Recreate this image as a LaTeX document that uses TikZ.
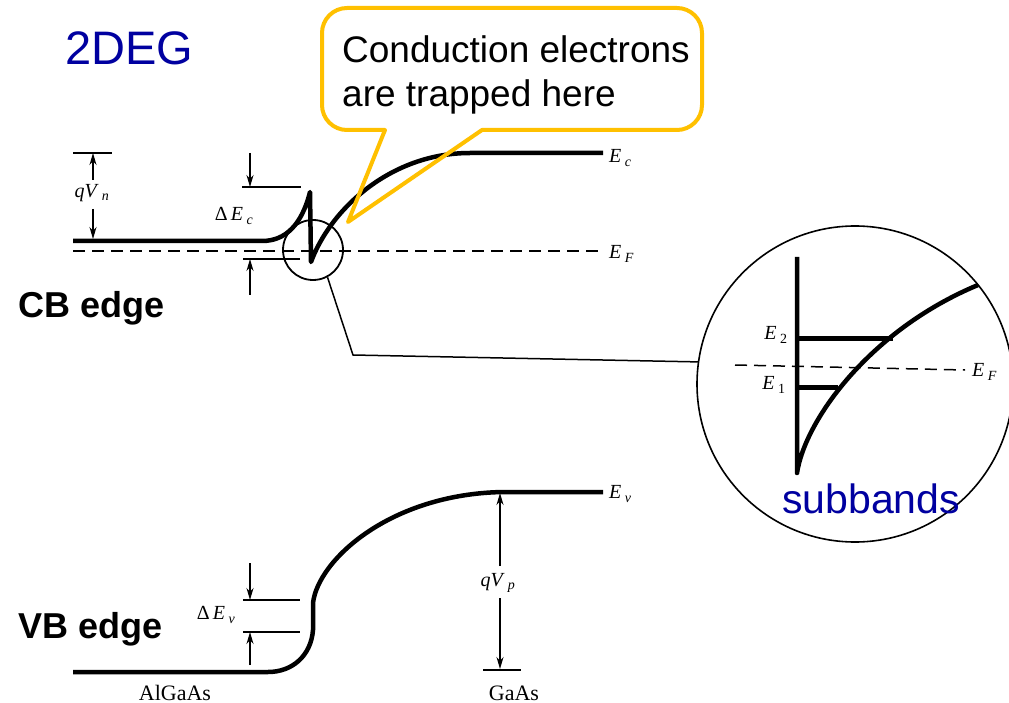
\documentclass[tikz,border=0pt]{standalone}
\usepackage{fontspec}
\setmainfont{Liberation Serif}
\newfontfamily\arialfont{Liberation Sans}
\usetikzlibrary{arrows.meta, positioning}
\definecolor{DegBlue}{RGB}{0,0,160}
\definecolor{CalloutGold}{RGB}{255,192,0}
\newcommand{\bandsym}[2]{\textit{#1}\,\textsubscript{#2}}

\begin{document}
\begin{tikzpicture}[x=1pt, y=-1pt,
    band/.style={line width=4.5pt, line join=round},
    level/.style={line width=5pt},
    guide/.style={line width=1.5pt},
    fermi/.style={line width=1.5pt, dash pattern=on 12pt off 7pt},
    arr/.style={-{Stealth[length=12pt, width=7pt]}, line width=1.5pt},
    sym/.style={font=\fontsize{20}{24}\selectfont, inner sep=0pt},
    mat/.style={font=\fontsize{22}{26}\selectfont, inner sep=0pt},
    blue/.style={font=\arialfont\fontsize{#1}{#1}\selectfont, text=DegBlue, inner sep=0pt, anchor=base west},
    edge/.style={font=\arialfont\bfseries\fontsize{36}{42}\selectfont, inner sep=0pt, anchor=base west},
    callout/.style={draw=CalloutGold, line width=4pt, line join=round}
  ]
\useasboundingbox (0,0) rectangle (1009,703);

% titles
\node[blue=47] (deg) at (65,65) {2DEG};
\node[edge] (cb) at (18,317) {CB edge};
\node[edge] (vb) at (18,638) {VB edge};

% conduction band
\draw[band] (73,241) -- (262,241) .. controls (286,241) and (302,224) .. (310,192)
  -- (311,262) .. controls (330,210) and (390,153) .. (470,153) -- (603,153);
\draw[fermi] (73,251) -- (603,251);
\node[sym, anchor=west] (ec) at (609,158) {\bandsym{E}{\textit{c}}};
\node[sym, anchor=west] (ef) at (609,254) {\bandsym{E}{\textit{F}}};

% qV_n
\draw[guide] (73,153) -- (112,153);
\node[sym] (qvn) at (92,193) {\bandsym{qV}{\textit{n}}};
\coordinate (qvntop) at (93,153);
\coordinate (qvnbot) at (93,239);
\draw[arr] (93,180) -- (qvntop);
\draw[arr] (93,209) -- (qvnbot);

% Delta E_c
\node[sym] (dec) at (234,216) {Δ\,\bandsym{E}{\textit{c}}};
\draw[guide] (242,187) -- (301,187);
\draw[guide] (243,259) -- (300,259);
\draw[arr] (250,153) -- (250,187);
\draw[arr] (250,295) -- (250,259);

% valence band
\draw[band] (73,672) -- (268,672) .. controls (292,672) and (311,656) .. (313,630)
  -- (313,603) .. controls (318,560) and (390,494) .. (503,492) -- (603,492);
\node[sym, anchor=west] (ev) at (609,494) {\bandsym{E}{\textit{v}}};

% Delta E_v
\node[sym] (dev) at (216,615) {Δ\,\bandsym{E}{\textit{v}}};
\draw[guide] (243,600) -- (300,600);
\draw[guide] (243,632) -- (300,632);
\draw[arr] (250,563) -- (250,600);
\draw[arr] (250,665) -- (250,632);

% qV_p
\node[sym] (qvp) at (498,583) {\bandsym{qV}{\textit{p}}};
\draw[guide] (483,670) -- (521,670);
\draw[arr] (500,566) -- (500,493);
\draw[arr] (500,598) -- (500,669);

\node[mat, anchor=base] (algaas) at (175,700) {AlGaAs};
\node[mat, anchor=base] (gaas) at (514,700) {GaAs};

% zoomed well
\node[circle, draw, line width=1.8pt, minimum size=60pt, inner sep=0pt] (spot) at (313,250) {};
\node[circle, draw, line width=1.6pt, minimum size=316pt, inner sep=0pt] (lens) at (855,384) {};
\coordinate (bend) at (353,355);
\draw[guide] (spot.-62) -- (bend) -- (lens.172);

\draw[band] (797,257) -- (797,473) .. controls (805,420) and (870,330) .. (978,285);
\draw[level] (797,338) -- (893,338);
\draw[level] (797,387) -- (838,387);
\draw[fermi] (735,365) -- (965,370);
\node[sym] (e2) at (776,335) {\bandsym{E}{2}};
\node[sym] (e1) at (774,385) {\bandsym{E}{1}};
\node[sym, anchor=west] (efin) at (972,372) {\bandsym{E}{\textit{F}}};
\node[blue=41] (sub) at (782,513) {subbands};

% callout
\draw[callout] (385,130) -- (347,130) arc[start angle=90, end angle=180, radius=25]
  -- (322,33) arc[start angle=180, end angle=270, radius=25]
  -- (677,8) arc[start angle=270, end angle=360, radius=25]
  -- (702,105) arc[start angle=0, end angle=90, radius=25]
  -- (482,130) -- (348,222) -- cycle;
\node[font=\arialfont\fontsize{37}{44}\selectfont, align=left, inner sep=0pt,
      anchor=north west] (trap) at (342,35) {Conduction electrons\\are trapped here};
\end{tikzpicture}
\end{document}
